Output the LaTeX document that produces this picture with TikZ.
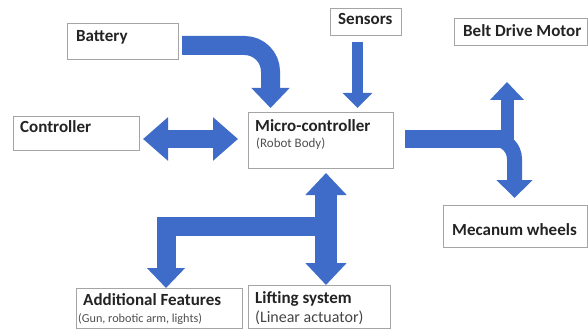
\documentclass[tikz,border=0pt]{standalone}
\usepackage{fontspec}
\setmainfont{Carlito}
\usetikzlibrary{arrows.meta}
\definecolor{arrblue}{RGB}{62,108,200}
\definecolor{boxgray}{RGB}{165,165,165}
\definecolor{txtc}{RGB}{35,35,35}
\begin{document}
\begin{tikzpicture}[x=1pt,y=-1pt,
  box/.style={draw=boxgray, line width=1.1pt, anchor=north west, inner sep=0pt},
  big/.style={font=\fontsize{17}{19}\selectfont\bfseries, text=txtc, anchor=base west, inner sep=0pt},
  small/.style={font=\fontsize{13}{15}\selectfont, text=txtc!80, anchor=base west, inner sep=0pt},
  smaller/.style={font=\fontsize{12.2}{14}\selectfont, text=txtc!80, anchor=base west, inner sep=0pt},
  mid/.style={font=\fontsize{16}{18}\selectfont, text=txtc!85, anchor=base west, inner sep=0pt},
  blk/.style={draw=arrblue, line join=miter}
]
\useasboundingbox (0,0) rectangle (588,331);
% boxes
\node[box, minimum width=111pt, minimum height=36pt] (bat) at (67,23) {};
\node[box, minimum width=126pt, minimum height=34pt] (ctl) at (13,116) {};
\node[box, minimum width=145pt, minimum height=56pt] (mc) at (248,112) {};
\node[box, minimum width=71pt, minimum height=27pt] (sen) at (330,8) {};
\node[box, minimum width=133pt, minimum height=27pt] (belt) at (454,18) {};
\node[box, minimum width=144pt, minimum height=42pt] (mec) at (443,205) {};
\node[box, minimum width=166pt, minimum height=40pt] (add) at (76,288) {};
\node[box, minimum width=142pt, minimum height=43pt] (lift) at (248,285) {};
% texts
\node[big] (tbat) at (76,42) {Battery};
\node[big] (tctl) at (20,133) {Controller};
\node[big] (tmc) at (255,132) {Micro-controller};
\node[small] (tmc2) at (256,147) {(Robot Body)};
\node[big] (tsen) at (338,25) {Sensors};
\node[big] (tbelt) at (463,37) {Belt Drive Motor};
\node[big] (tmec) at (452,235) {Mecanum wheels};
\node[big] (tadd) at (83,305) {Additional Features};
\node[smaller] (tadd2) at (78,322) {(Gun, robotic arm, lights)};
\node[big] (tlift) at (255,303) {Lifting system};
\node[mid] (tlift2) at (255,322) {(Linear actuator)};
% arrows
\coordinate (b1) at (182,45.5);
\coordinate (b2) at (270.5,45.5);
\coordinate (b3) at (270.5,108);
\draw[blk, line width=19pt, rounded corners=26pt, -{Triangle[length=20pt,width=37pt]}] (b1) -- (b2) -- (b3);
\coordinate (s1) at (357.5,42);
\coordinate (s2) at (357.5,108);
\draw[blk, line width=11pt, -{Triangle[length=15pt,width=29pt]}] (s1) -- (s2);
\coordinate (c1) at (143,139);
\coordinate (c2) at (238,139);
\draw[blk, line width=18pt, {Triangle[length=25pt,width=42pt]}-{Triangle[length=25pt,width=42pt]}] (c1) -- (c2);
\coordinate (m1) at (405,139);
\coordinate (m2) at (507,139);
\coordinate (m3) at (507,82);
\coordinate (m4) at (488,139);
\coordinate (m5) at (514.5,139);
\coordinate (m6) at (514.5,198);
\draw[blk, line width=18pt] (m1) -- (m2);
\draw[blk, line width=13pt, -{Triangle[length=18pt,width=33pt]}] (m2) -- (m3);
\draw[blk, line width=15pt, rounded corners=20pt, -{Triangle[length=18pt,width=35pt]}] (m4) -- (m5) -- (m6);
\coordinate (l1) at (326,173);
\coordinate (l2) at (326,285);
\draw[blk, line width=22pt, {Triangle[length=22pt,width=40pt]}-{Triangle[length=22pt,width=40pt]}] (l1) -- (l2);
\coordinate (a1) at (316,226.5);
\coordinate (a2) at (166,226.5);
\coordinate (a3) at (166,288);
\draw[blk, line width=19pt, -{Triangle[length=20pt,width=37pt]}] (a1) -- (a2) -- (a3);
\end{tikzpicture}
\end{document}
